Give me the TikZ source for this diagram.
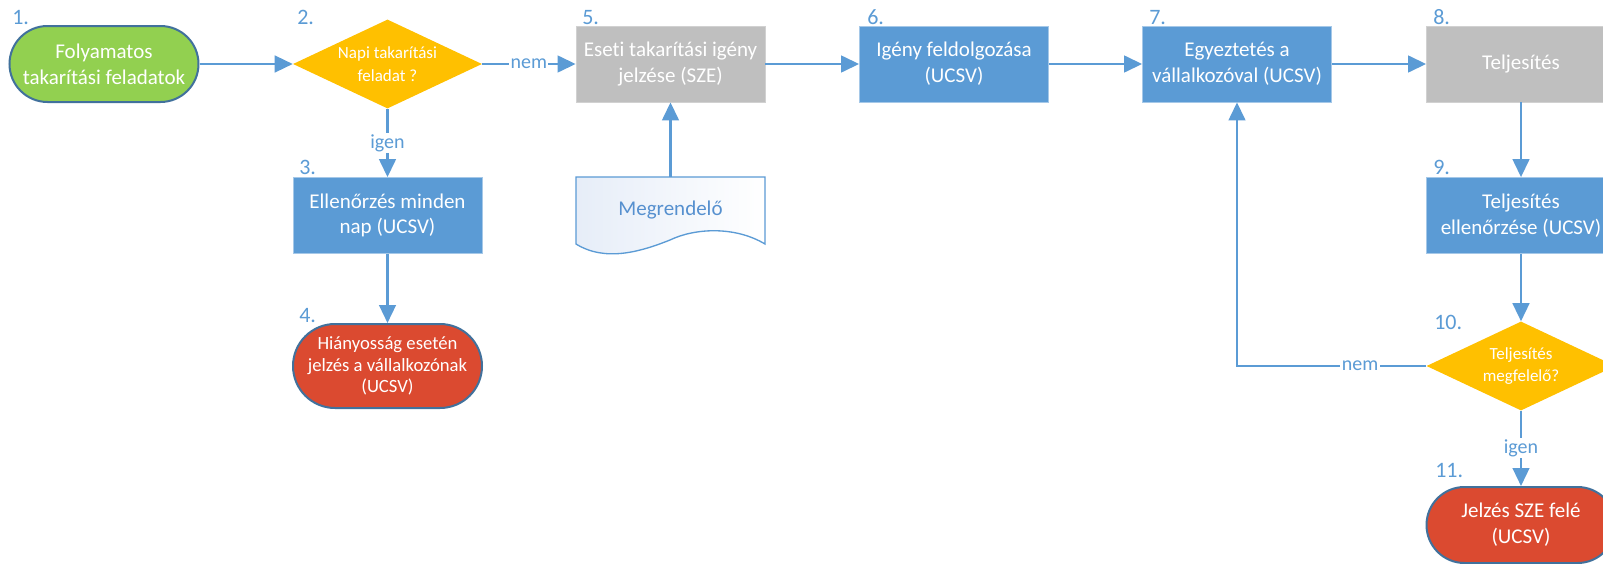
\documentclass[tikz,border=0pt]{standalone}
\usepackage{fontspec}
\setmainfont{Carlito}[Ligatures=CommonOff]
\usetikzlibrary{arrows.meta,shapes.geometric,calc}

\definecolor{flowblue}{HTML}{5B9BD5}
\definecolor{termline}{HTML}{41719C}
\definecolor{termgreen}{HTML}{92D050}
\definecolor{termred}{HTML}{DB4A30}
\definecolor{decyellow}{HTML}{FFC000}
\definecolor{procgray}{HTML}{BFBFBF}
\definecolor{docfill}{HTML}{E6EDF8}
\definecolor{doctext}{HTML}{5690CF}

\newcommand{\procfont}{\fontsize{15.75}{19.3}\selectfont}
\newcommand{\decfont}{\fontsize{12.75}{17}\selectfont}
\newcommand{\smallterm}{\fontsize{14}{16.3}\selectfont}
\newcommand{\numfont}{\fontsize{16.5}{19}\selectfont}
\newcommand{\lblfont}{\fontsize{15}{17}\selectfont}

\tikzset{
  flow/.style={draw=flowblue, line width=1.8pt, -{Triangle[length=13.5pt,width=12.5pt]}},
  proc/.style={rectangle, minimum width=141.75pt, minimum height=57pt, text=white, align=center, font=\procfont, line width=0.6pt},
  bluebox/.style={proc, fill=flowblue, draw=flowblue!55!white},
  graybox/.style={proc, fill=procgray, draw=black!18},
  term/.style={rectangle, rounded corners=28.5pt, minimum width=141.75pt, minimum height=57pt, draw=termline, line width=1.5pt, text=white, align=center, font=\procfont},
  decision/.style={diamond, fill=decyellow, minimum width=141.75pt, minimum height=66.75pt, inner sep=0pt},
  dectext/.style={text=white, align=center, font=\decfont},
  num/.style={text=flowblue, font=\numfont, anchor=south west, inner sep=0pt},
  lbl/.style={text=flowblue, font=\lblfont, fill=white, inner sep=1pt},
  doctxt/.style={rectangle, minimum width=141.75pt, minimum height=50.25pt, text=doctext, font=\procfont}
}

\begin{document}
\begin{tikzpicture}[x=0.75pt,y=0.75pt,yscale=-1,xscale=1]
%set diagram size 1603 x 564
\clip (0,0) rectangle (1603,564);
\fill[white] (0,0) rectangle (1603,564);

% Terminals
\node[term, fill=termgreen] (t1) at (104,64) {Folyamatos\\takarítási feladatok};
\node[term, fill=termred, minimum height=63pt, rounded corners=31.5pt, font=\smallterm] (t4) at (387.5,366) {Hiányosság esetén\\jelzés a vállalkozónak\\(UCSV)};
\node[term, fill=termred] (t11) at (1521,525) {Jelzés SZE felé\\(UCSV)};

% Decisions
\node[decision, label={[dectext]center:Napi takarítási\\feladat ?}] (d2) at (387.5,64) {};
\node[decision, label={[dectext]center:Teljesítés\\megfelelő?}] (d10) at (1521,366) {};

% Processes
\node[bluebox] (b3) at (387.5,215.5) {Ellenőrzés minden\\nap (UCSV)};
\node[graybox] (b5) at (670.5,64) {Eseti takarítási igény\\jelzése (SZE)};
\node[bluebox] (b6) at (954,64) {Igény feldolgozása\\(UCSV)};
\node[bluebox] (b7) at (1237,64) {Egyeztetés a\\vállalkozóval (UCSV)};
\node[graybox] (b8) at (1521,64) {Teljesítés};
\node[bluebox] (b9) at (1521,215.5) {Teljesítés\\ellenőrzése (UCSV)};

% Document
\draw[draw=flowblue, line width=1pt, left color=docfill, right color=white] (576,177) -- (765,177) -- (765,244) .. controls (735,226) and (695,228) .. (670,240) .. controls (640,252) and (605,262) .. (576,244) -- cycle;
\node[doctxt] (doc) at (670.5,210.5) {Megrendelő};

% Step numbers
\node[num] (n1) at (12,25) {1.};
\node[num] (n2) at (297,25) {2.};
\node[num] (n3) at (299,175) {3.};
\node[num] (n4) at (299,323) {4.};
\node[num] (n5) at (582,25) {5.};
\node[num] (n6) at (867,25) {6.};
\node[num] (n7) at (1149,25) {7.};
\node[num] (n8) at (1433,25) {8.};
\node[num] (n9) at (1433,175) {9.};
\node[num] (n10) at (1434,330) {10.};
\node[num] (n11) at (1435,478) {11.};

% Straight Lines
\draw[flow] (t1.east) -- (d2.west);
\draw[flow] (d2.east) -- node[lbl]{nem} (b5.west);
\draw[flow] (d2.south) -- node[lbl]{igen} (b3.north);
\draw[flow] (b3) -- (t4);
\draw[flow] (doc.north) -- (b5.south);
\draw[flow] (b5) -- (b6);
\draw[flow] (b6) -- (b7);
\draw[flow] (b7) -- (b8);
\draw[flow] (b8) -- (b9);
\draw[flow] (b9) -- (d10);
\draw[flow] (d10.south) -- node[lbl]{igen} (t11.north);
\draw[flow] (d10.west) -- node[lbl, pos=0.35]{nem} (d10.west -| b7.south) -- (b7.south);

\end{tikzpicture}
\end{document}
